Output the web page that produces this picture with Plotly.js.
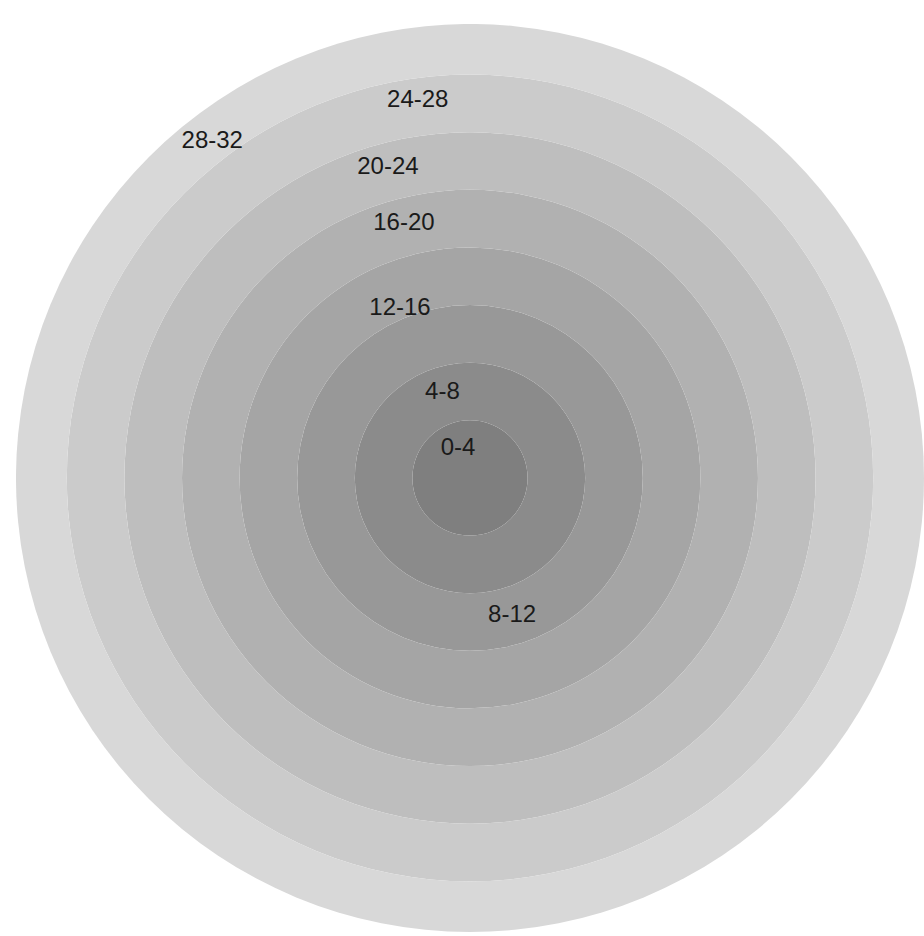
<!DOCTYPE html>
<html>
<head>
<meta charset="utf-8">
<script src="https://cdn.plot.ly/plotly-3.0.1.min.js"></script>
<style>html,body{margin:0;padding:0;background:#fff;}#chart{width:924px;height:936px;}</style>
</head>
<body>
<div id="chart"></div>
<script>
// Band categories (inner to outer)
const bandLabels = ["0-4", "4-8", "8-12", "12-16", "16-20", "20-24", "24-28", "28-32"];
const bandStart = [0, 4, 8, 12, 16, 20, 24, 28];
const bandWidth = [4, 4, 4, 4, 4, 4, 4, 4];
const bandColors = ["#7f7f7f", "#8b8b8b", "#989898", "#a5a5a5", "#b1b1b1", "#bebebe", "#cbcbcb", "#d8d8d8"];
// Label placement (radius in data units, angle in degrees)
const labelR = [2.2, 6.2, 10.0, 12.7, 18.2, 22.3, 26.4, 29.4];
const labelTheta = [112, 108, 287, 112.5, 104.6, 104.8, 97.9, 127.5];

const traces = bandLabels.map((lab, i) => ({
  type: "barpolar",
  r: [bandWidth[i]],
  base: [bandStart[i]],
  theta: [0],
  width: [360],
  name: lab,
  marker: {color: bandColors[i], line: {width: 0}},
  hoverinfo: "name"
}));

traces.push({
  type: "scatterpolar",
  mode: "text",
  r: labelR,
  theta: labelTheta,
  text: bandLabels,
  textfont: {family: "Liberation Sans, Arial, sans-serif", size: 24, color: "#1a1a1a"},
  hoverinfo: "skip"
});

const layout = {
  width: 924,
  height: 936,
  margin: {l: 0, r: 0, t: 0, b: 0},
  paper_bgcolor: "#ffffff",
  showlegend: false,
  polar: {
    domain: {x: [0.0173, 1.0], y: [0.0043, 0.9744]},
    bgcolor: "rgba(0,0,0,0)",
    barmode: "overlay",
    radialaxis: {range: [0, 31.53], visible: false, showgrid: false},
    angularaxis: {visible: false, showgrid: false, direction: "counterclockwise", rotation: 0}
  }
};

Plotly.newPlot("chart", traces, layout, {displayModeBar: false, staticPlot: true});
</script>
</body>
</html>
